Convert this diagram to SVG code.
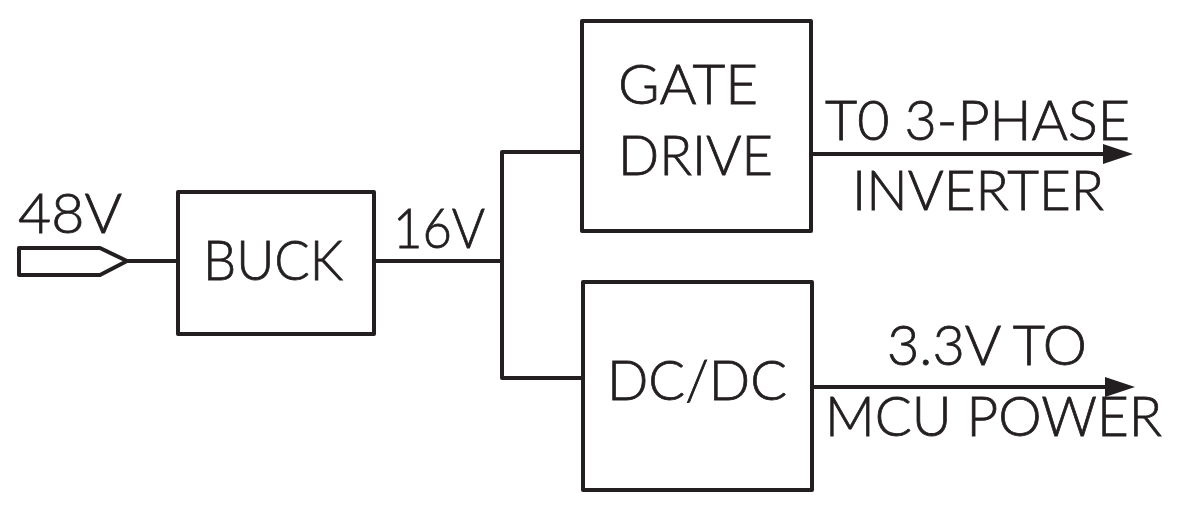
<svg xmlns="http://www.w3.org/2000/svg" width="1200" height="509" viewBox="0 0 1200 509">
  <style>
    .box { fill: #ffffff; stroke: #231f20; stroke-width: 4; stroke-linejoin: round; }
    .wire { fill: none; stroke: #231f20; stroke-width: 4; stroke-linejoin: round; }
    .lbl { font-family: "Lato", "Open Sans", "Liberation Sans", sans-serif; font-weight: 300; font-size: 56px; fill: #231f20; stroke: #231f20; stroke-width: 0.8px; }
  </style>
  <defs>
    <marker id="arr" markerUnits="userSpaceOnUse" markerWidth="30" markerHeight="22" refX="5" refY="11" orient="auto">
      <path d="M0,1 L30,11 L0,21 Z" fill="#231f20"/>
    </marker>
  </defs>
  <rect width="1200" height="509" fill="#ffffff"/>

  <g id="connectors">
    <line class="wire" x1="127" y1="261" x2="180" y2="261"/>
    <line class="wire" x1="374" y1="261" x2="502" y2="261"/>
    <polyline class="wire" points="582,152 502,152 502,378 582,378"/>
    <line class="wire" x1="811" y1="154" x2="1108" y2="154" marker-end="url(#arr)"/>
    <line class="wire" x1="812" y1="387" x2="1110" y2="387" marker-end="url(#arr)"/>
  </g>

  <g id="input-48v">
    <path class="wire" d="M19,248 L100,248 L127,261 L100,275 L19,275 Z"/>
    <text class="lbl" x="18" y="233" textLength="104" lengthAdjust="spacingAndGlyphs">48V</text>
  </g>

  <g id="buck">
    <rect class="box" x="178" y="192" width="196" height="142"/>
    <text class="lbl" x="203" y="280" textLength="140" lengthAdjust="spacingAndGlyphs">BUCK</text>
  </g>

  <g id="label-16v">
    <text class="lbl" x="393" y="248" textLength="92" lengthAdjust="spacingAndGlyphs">16V</text>
  </g>

  <g id="gate-drive">
    <rect class="box" x="582" y="21" width="229" height="210"/>
    <text class="lbl" x="618" y="104" textLength="140" lengthAdjust="spacingAndGlyphs">GATE</text>
    <text class="lbl" x="618" y="175" textLength="155" lengthAdjust="spacingAndGlyphs">DRIVE</text>
  </g>

  <g id="dcdc">
    <rect class="box" x="583" y="282" width="229" height="208"/>
    <text class="lbl" x="607" y="400" textLength="180" lengthAdjust="spacingAndGlyphs">DC/DC</text>
  </g>

  <g id="out-inverter">
    <text class="lbl" x="825" y="140" textLength="305" lengthAdjust="spacingAndGlyphs">T0 3-PHASE</text>
    <text class="lbl" x="852" y="210" textLength="252" lengthAdjust="spacingAndGlyphs">INVERTER</text>
  </g>

  <g id="out-mcu">
    <text class="lbl" x="887" y="365" textLength="200" lengthAdjust="spacingAndGlyphs">3.3V TO</text>
    <text class="lbl" x="825" y="436" textLength="337" lengthAdjust="spacingAndGlyphs">MCU POWER</text>
  </g>
</svg>
